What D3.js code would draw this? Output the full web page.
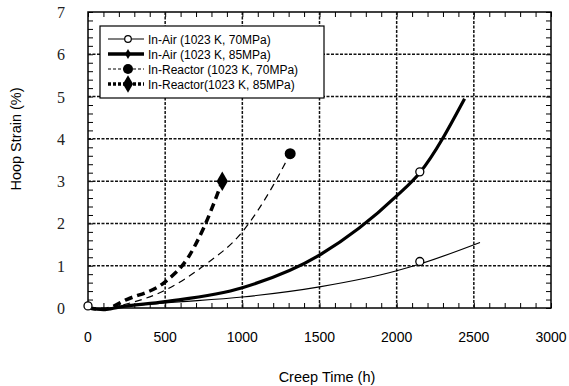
<!DOCTYPE html>
<html><head><meta charset="utf-8">
<script src="https://cdn.jsdelivr.net/npm/d3@7"></script>
<style>body{margin:0;background:#fff}svg{display:block}</style>
</head><body>
<svg id="c" width="569" height="386"></svg>
<script>
const xTicks = [0, 500, 1000, 1500, 2000, 2500, 3000];
const yTicks = [0, 1, 2, 3, 4, 5, 6, 7];
const seriesNames = ["In-Air (1023 K, 70MPa)", "In-Air (1023 K, 85MPa)", "In-Reactor (1023 K, 70MPa)", "In-Reactor(1023 K, 85MPa)"];
const air70 = [[0,0.0],[100,-0.03],[200,0.02],[500,0.12],[1000,0.26],[1500,0.5],[2000,0.88],[2150,1.04],[2540,1.55]];
const air85 = [[0,0.0],[100,-0.04],[200,0.02],[500,0.15],[1000,0.48],[1500,1.25],[2000,2.65],[2150,3.2],[2440,4.95]];
const reac70 = [[0,0.0],[100,-0.03],[200,0.05],[500,0.42],[750,1.0],[1000,1.8],[1200,2.9],[1310,3.65]];
const reac85 = [[0,0.0],[100,-0.03],[250,0.2],[500,0.62],[650,1.2],[750,1.9],[870,3.0]];
const air70Markers = [[0,0.05],[2150,1.1]];
const air85Markers = [[2150,3.22]];
const reac70Markers = [[1310,3.65]];
const reac85Markers = [[870,3.0]];

const svg = d3.select("#c");
const L = 88, R = 551, T = 12, B = 308;
const x = d3.scaleLinear().domain([0, 3000]).range([L, R]);
const y = d3.scaleLinear().domain([0, 7]).range([B, T]);

// axes with inward ticks
const xMinor = d3.range(0, 3001, 100);
const yMinor = d3.range(0, 7.001, 0.2);
const ax = [];
ax.push(svg.append("g").attr("transform", `translate(0,${B})`)
  .call(d3.axisBottom(x).tickValues(xMinor).tickSize(-5).tickFormat("")));
ax.push(svg.append("g").attr("transform", `translate(0,${T})`)
  .call(d3.axisTop(x).tickValues(xMinor).tickSize(-5).tickFormat("")));
ax.push(svg.append("g").attr("transform", `translate(${L},0)`)
  .call(d3.axisLeft(y).tickValues(yMinor).tickSize(-5).tickFormat("")));
ax.push(svg.append("g").attr("transform", `translate(${R},0)`)
  .call(d3.axisRight(y).tickValues(yMinor).tickSize(-5).tickFormat("")));
ax.forEach(a => { a.select(".domain").remove(); a.selectAll(".tick line").attr("stroke", "#000").attr("stroke-width", 1); });

svg.append("rect").attr("x", L).attr("y", T).attr("width", R - L).attr("height", B - T)
  .attr("fill", "none").attr("stroke", "#000").attr("stroke-width", 1.5);

// grid
const gridG = svg.append("g").attr("class", "grid");
gridG.selectAll("path.vx").data(xTicks.slice(1, -1)).join("path").attr("class", "vx")
  .attr("d", v => `M${x(v)},${T}V${B}`)
  .attr("fill", "none").attr("stroke", "#111").attr("stroke-width", 1.5).attr("stroke-dasharray", "3,1.5");
gridG.selectAll("path.hy").data(yTicks.slice(1, -1)).join("path").attr("class", "hy")
  .attr("d", v => `M${L},${y(v)}H${R}`)
  .attr("fill", "none").attr("stroke", "#111").attr("stroke-width", 1.5).attr("stroke-dasharray", "3,1.5");

// tick labels
svg.append("g").selectAll("text").data(xTicks).join("text")
  .attr("x", d => x(d)).attr("y", 342).attr("text-anchor", "middle")
  .attr("font-family", "Liberation Sans, Arial, sans-serif").attr("font-size", 14)
  .text(d => d);
svg.append("g").selectAll("text").data(yTicks).join("text")
  .attr("x", 61).attr("y", d => y(d) + 6).attr("text-anchor", "middle")
  .attr("font-family", "Liberation Serif, Times New Roman, serif").attr("font-size", 16)
  .attr("fill", "#222")
  .text(d => d);

svg.append("text").attr("x", 327).attr("y", 382).attr("text-anchor", "middle")
  .attr("font-family", "Liberation Sans, Arial, sans-serif").attr("font-size", 14.5).text("Creep Time (h)");
svg.append("text").attr("transform", "translate(21,139) rotate(-90)").attr("text-anchor", "middle")
  .attr("font-family", "Liberation Sans, Arial, sans-serif").attr("font-size", 14.5).text("Hoop Strain (%)");

// curves
const line = d3.line().x(d => x(d[0])).y(d => y(d[1])).curve(d3.curveMonotoneX);
const styles = [
  {w: 1.2, dash: null},
  {w: 3.2, dash: null},
  {w: 1.2, dash: "7,5"},
  {w: 3.5, dash: "8,5"}
];
[air70, air85, reac70, reac85].forEach((s, i) => {
  svg.append("path").datum(s).attr("d", line).attr("fill", "none").attr("stroke", "#000")
    .attr("stroke-width", styles[i].w).attr("stroke-dasharray", styles[i].dash);
});

// markers
svg.append("g").selectAll("circle").data(air70Markers.concat(air85Markers)).join("circle")
  .attr("cx", d => x(d[0])).attr("cy", d => y(d[1])).attr("r", 4)
  .attr("fill", "#fff").attr("stroke", "#000").attr("stroke-width", 1.3);
svg.append("g").selectAll("circle").data(reac70Markers).join("circle")
  .attr("cx", d => x(d[0])).attr("cy", d => y(d[1])).attr("r", 5.5).attr("fill", "#000");
svg.append("g").selectAll("path").data(reac85Markers).join("path")
  .attr("transform", d => `translate(${x(d[0])},${y(d[1])})`)
  .attr("d", d3.symbol(d3.symbolDiamond, 110)).attr("fill", "#000");

// legend
const lg = svg.append("g");
lg.append("rect").attr("x", 100).attr("y", 26).attr("width", 224).attr("height", 72)
  .attr("fill", "#fff").attr("stroke", "#000").attr("stroke-width", 1.2);
const rowY = [39, 54, 69, 84];
const legStyles = [
  {w: 1.2, dash: null, m: "open"},
  {w: 3.5, dash: null, m: "smalldiamond"},
  {w: 1.2, dash: "3,2", m: "dot"},
  {w: 3.5, dash: "3,2", m: "diamond"}
];
seriesNames.forEach((n, i) => {
  const yy = rowY[i];
  lg.append("line").attr("x1", 108).attr("x2", 144).attr("y1", yy).attr("y2", yy)
    .attr("stroke", "#000").attr("stroke-width", legStyles[i].w).attr("stroke-dasharray", legStyles[i].dash);
  const m = legStyles[i].m;
  if (m === "open") lg.append("circle").attr("cx", 128).attr("cy", yy).attr("r", 3.3).attr("fill", "#fff").attr("stroke", "#000").attr("stroke-width", 1.2);
  if (m === "dot") lg.append("circle").attr("cx", 128).attr("cy", yy).attr("r", 5).attr("fill", "#000");
  if (m === "smalldiamond") lg.append("path").attr("transform", `translate(128,${yy})`).attr("d", d3.symbol(d3.symbolDiamond, 30)).attr("fill", "#000");
  if (m === "diamond") lg.append("path").attr("transform", `translate(128,${yy})`).attr("d", d3.symbol(d3.symbolDiamond, 90)).attr("fill", "#000");
  lg.append("text").attr("x", 148).attr("y", yy + 4.5).attr("font-family", "Liberation Sans, Arial, sans-serif")
    .attr("font-size", 12).text(n);
});
</script>
</body></html>
